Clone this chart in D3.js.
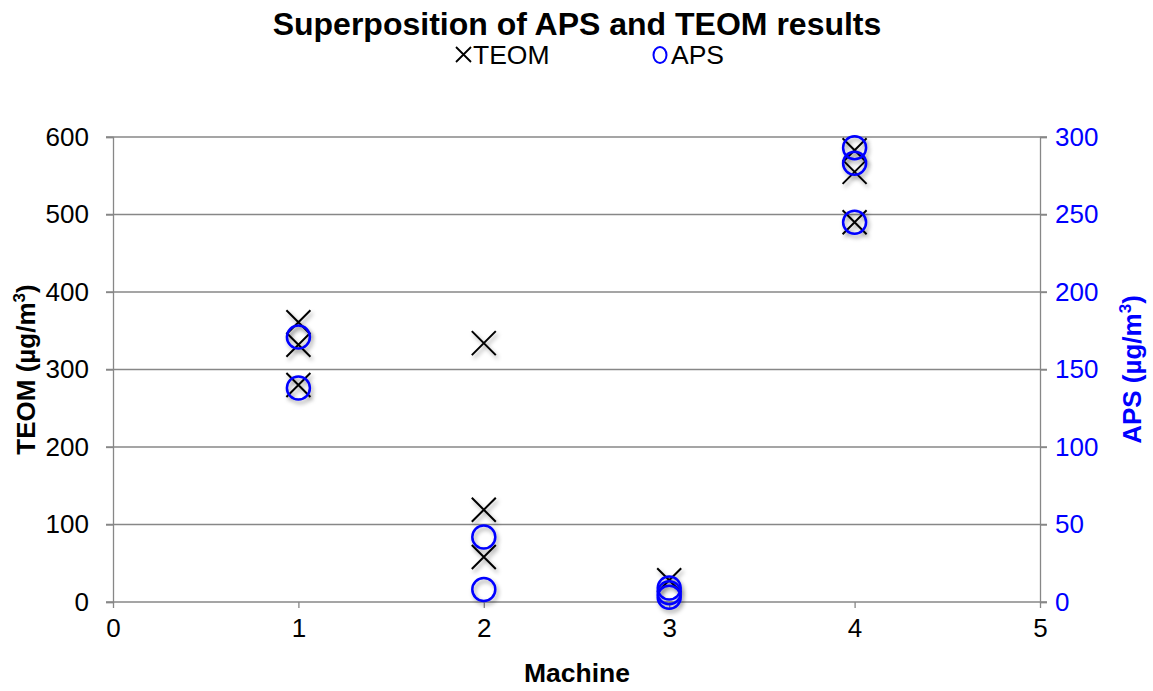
<!DOCTYPE html>
<html>
<head>
<meta charset="utf-8">
<script src="https://cdn.jsdelivr.net/npm/d3@7"></script>
<style>
  body { margin: 0; background: #fff; }
  text { font-family: "Liberation Sans", Arial, sans-serif; }
</style>
</head>
<body>
<svg id="chart" width="1153" height="691"></svg>
<script>
// TEOM series (left axis)
const teomMachine = [1, 1, 1, 2, 2, 2, 3, 4, 4, 4];
const teomValues = [361, 332, 280, 334, 119, 58, 28, 583, 555, 490];
// APS series (right axis)
const apsMachine = [1, 1, 2, 2, 3, 3, 3, 4, 4, 4];
const apsValues = [171, 138, 42, 8, 9, 6, 3, 293, 283, 245];

const xTicks = [0, 1, 2, 3, 4, 5];
const leftTicks = [0, 100, 200, 300, 400, 500, 600];
const rightTicks = [0, 50, 100, 150, 200, 250, 300];

const svg = d3.select('#chart');
const grid = '#878787';
const plot = { left: 113, right: 1040, top: 137, bottom: 602 };

const x = d3.scaleLinear().domain([0, 5]).range([plot.left, plot.right]);
const yL = d3.scaleLinear().domain([0, 600]).range([plot.bottom, plot.top]);
const yR = d3.scaleLinear().domain([0, 300]).range([plot.bottom, plot.top]);

// drop shadow like the spreadsheet markers
const defs = svg.append('defs');
defs.append('filter').attr('id', 'shadow')
    .attr('x', '-50%').attr('y', '-50%').attr('width', '200%').attr('height', '200%')
  .append('feDropShadow')
    .attr('dx', 2).attr('dy', 3).attr('stdDeviation', 2)
    .attr('flood-color', '#000').attr('flood-opacity', 0.35);

// gridlines
svg.append('g').selectAll('line').data(leftTicks.slice(1)).join('line')
    .attr('x1', plot.left - 7).attr('x2', plot.right + 7)
    .attr('y1', d => yL(d)).attr('y2', d => yL(d))
    .attr('stroke', grid).attr('stroke-width', 1.3);

// axes
const axL = svg.append('g').attr('transform', `translate(${plot.left},0)`)
    .call(d3.axisLeft(yL).tickValues(leftTicks).tickSize(7).tickPadding(17));
const axR = svg.append('g').attr('transform', `translate(${plot.right},0)`)
    .call(d3.axisRight(yR).tickValues(rightTicks).tickSize(7).tickPadding(8));
const axB = svg.append('g').attr('transform', `translate(0,${plot.bottom})`)
    .call(d3.axisBottom(x).tickValues(xTicks).tickFormat(d3.format('d')).tickSize(6).tickPadding(11));

[axL, axR, axB].forEach(a => {
  a.select('.domain').attr('stroke', grid).attr('stroke-width', 1.3);
  a.selectAll('.tick line').attr('stroke', grid).attr('stroke-width', 1.3);
  a.selectAll('text').style('font-size', '26px').attr('fill', '#000');
});
axR.selectAll('text').attr('fill', '#0000ff');
axB.select('.domain').attr('d', `M${plot.left - 7},0H${plot.right + 7}`);

// TEOM markers
const xs = 12;
svg.append('g').attr('filter', 'url(#shadow)')
  .selectAll('path').data(teomValues).join('path')
    .attr('d', (d, i) => {
      const cx = x(teomMachine[i]), cy = yL(d);
      return `M${cx - xs},${cy - xs}L${cx + xs},${cy + xs}M${cx - xs},${cy + xs}L${cx + xs},${cy - xs}`;
    })
    .attr('stroke', '#000').attr('stroke-width', 2).attr('fill', 'none');

// APS markers
svg.append('g').attr('filter', 'url(#shadow)')
  .selectAll('circle').data(apsValues).join('circle')
    .attr('cx', (d, i) => x(apsMachine[i]))
    .attr('cy', d => yR(d))
    .attr('r', 11.5)
    .attr('fill', 'none').attr('stroke', '#0000ff').attr('stroke-width', 2.5);

// title
svg.append('text').attr('x', 577).attr('y', 35).attr('text-anchor', 'middle')
    .style('font-size', '32px').style('font-weight', 'bold').text('Superposition of APS and TEOM results');

// legend
const lg = svg.append('g');
lg.append('path').attr('d', 'M456,47L471,62M456,62L471,47').attr('stroke', '#000').attr('stroke-width', 1.8);
lg.append('text').attr('x', 473).attr('y', 64).style('font-size', '26.5px').text('TEOM');
lg.append('ellipse').attr('cx', 660).attr('cy', 55).attr('rx', 6.5).attr('ry', 8)
    .attr('fill', 'none').attr('stroke', '#0000ff').attr('stroke-width', 2);
lg.append('text').attr('x', 671).attr('y', 64).style('font-size', '26.5px').text('APS');

// axis titles
svg.append('text').attr('x', 577).attr('y', 682).attr('text-anchor', 'middle')
    .style('font-size', '26.5px').style('font-weight', 'bold').text('Machine');

const lt = svg.append('text').attr('transform', `translate(35,${(plot.top + plot.bottom) / 2}) rotate(-90)`)
    .attr('text-anchor', 'middle').style('font-size', '26px').style('font-weight', 'bold');
lt.append('tspan').text('TEOM (µg/m');
lt.append('tspan').attr('dy', -10).style('font-size', '17px').text('3');
lt.append('tspan').attr('dy', 10).text(')');

const rt = svg.append('text').attr('transform', `translate(1141,${(plot.top + plot.bottom) / 2}) rotate(-90)`)
    .attr('text-anchor', 'middle').attr('fill', '#0000ff').style('font-size', '26px').style('font-weight', 'bold');
rt.append('tspan').text('APS (µg/m');
rt.append('tspan').attr('dy', -10).style('font-size', '17px').text('3');
rt.append('tspan').attr('dy', 10).text(')');
</script>
</body>
</html>
